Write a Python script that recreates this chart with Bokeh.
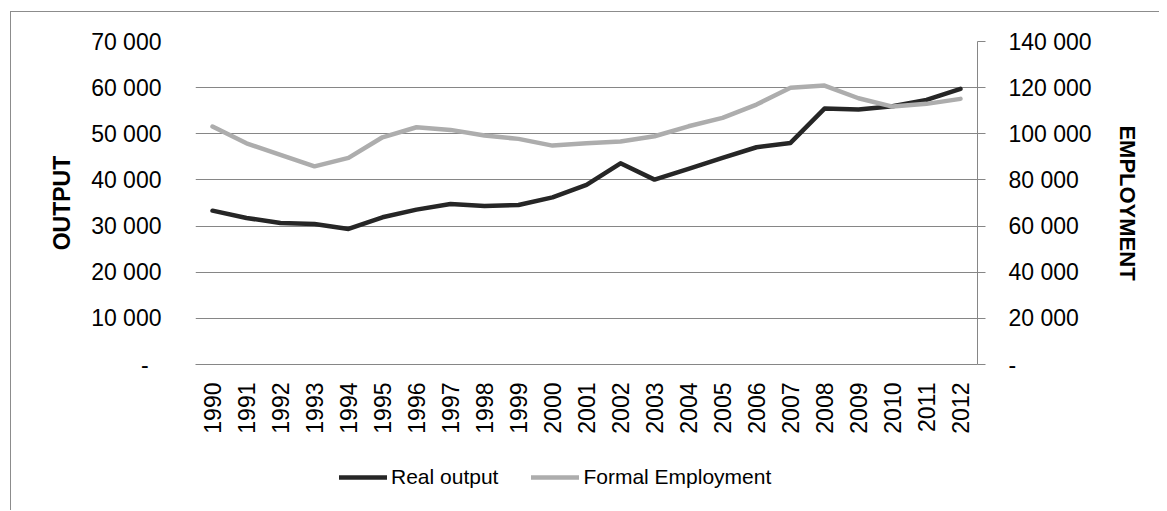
import math
from bokeh.plotting import figure
from bokeh.layouts import column
from bokeh.models import LinearAxis, Range1d, FactorRange, FixedTicker, Legend, LegendItem
from bokeh.embed import file_html
from bokeh.resources import INLINE

years = [str(y) for y in range(1990, 2013)]
real_output = [33340, 31760, 30670, 30450, 29370, 31900, 33560, 34790, 34360, 34570,
               36230, 38910, 43600, 40070, 42380, 44770, 47080, 48020, 55470, 55250,
               55970, 57350, 59740]
formal_employment = [103130, 95880, 90850, 85900, 89540, 98480, 102820, 101690, 99220, 97790,
                     94880, 95880, 96620, 98920, 103250, 106900, 112670, 119910, 120910, 115400,
                     111800, 112970, 115140]
left_ticks = [0, 10000, 20000, 30000, 40000, 50000, 60000, 70000]
right_ticks = [0, 20000, 40000, 60000, 80000, 100000, 120000, 140000]

FONT = "Liberation Sans"
GRID = "#868686"
DARK = "#262626"
LIGHT = "#ADADAD"

def fmt(v):
    if v == 0:
        return "-"
    return f"{v:,}".replace(",", " ")

p = figure(x_range=FactorRange(*years), y_range=Range1d(0, 70000),
           frame_width=782, frame_height=323, output_backend="svg", toolbar_location=None,
           min_border_left=184, min_border_right=182, min_border_top=29, min_border_bottom=75)
p.extra_y_ranges = {"emp": Range1d(0, 140000)}
p.outline_line_color = None
p.background_fill_color = "white"
p.border_fill_color = "white"

p.line(years, real_output, line_color=DARK, line_width=4.5,
       line_cap="round", line_join="round")
p.line(years, formal_employment, line_color=LIGHT, line_width=4.5,
       line_cap="round", line_join="round", y_range_name="emp")

p.xgrid.grid_line_color = None
p.ygrid.grid_line_color = GRID
p.ygrid.grid_line_width = 1
p.ygrid.ticker = FixedTicker(ticks=left_ticks)

# left axis
ya = p.yaxis[0]
ya.ticker = FixedTicker(ticks=left_ticks)
ya.major_label_overrides = {v: (fmt(v) if v else "-\u00a0\u00a0") for v in left_ticks}
ya.axis_line_color = None
ya.major_tick_line_color = None
ya.minor_tick_line_color = None
ya.major_label_standoff = 28
ya.major_label_text_font = FONT
ya.major_label_text_font_size = "23px"
ya.major_label_text_color = "black"
ya.axis_label = "OUTPUT"
ya.axis_label_text_font = FONT
ya.axis_label_text_font_size = "23px"
ya.axis_label_text_font_style = "bold"
ya.axis_label_text_color = "black"
ya.axis_label_standoff = 13

# right axis
ra = LinearAxis(y_range_name="emp", ticker=FixedTicker(ticks=right_ticks))
ra.major_label_overrides = {v: fmt(v) for v in right_ticks}
ra.axis_line_color = GRID
ra.axis_line_width = 1
ra.major_tick_line_color = GRID
ra.major_tick_in = 0
ra.major_tick_out = 8
ra.minor_tick_line_color = None
ra.major_label_standoff = 23
ra.major_label_text_font = FONT
ra.major_label_text_font_size = "23px"
ra.major_label_text_color = "black"
ra.axis_label = "EMPLOYMENT"
ra.axis_label_text_font = FONT
ra.axis_label_text_font_size = "22px"
ra.axis_label_text_font_style = "bold"
ra.axis_label_text_color = "black"
ra.axis_label_standoff = 20
p.add_layout(ra, "right")

# x axis
xa = p.xaxis[0]
xa.axis_line_color = GRID
xa.axis_line_width = 1
xa.major_tick_line_color = None
xa.minor_tick_line_color = None
xa.major_tick_out = 0
xa.major_label_orientation = math.pi / 2
xa.major_label_standoff = 18
xa.major_label_text_font = FONT
xa.major_label_text_font_size = "23px"
xa.major_label_text_color = "black"

# legend strip (series drawn outside its visible range; only the legend shows)
q = figure(x_range=p.x_range, y_range=Range1d(-2, -1), width=1148, height=71,
           output_backend="svg", toolbar_location=None,
           x_axis_location=None, y_axis_location=None,
           min_border_left=0, min_border_right=0, min_border_top=0, min_border_bottom=0)
q.outline_line_color = None
q.grid.grid_line_color = None
q.border_fill_color = "white"
q.background_fill_color = "white"
l1 = q.line(years, real_output, line_color=DARK, line_width=4.5, line_cap="round")
l2 = q.line(years, formal_employment, line_color=LIGHT, line_width=4.5, line_cap="round")

legend = Legend(items=[LegendItem(label="Real output", renderers=[l1]),
                       LegendItem(label="Formal Employment", renderers=[l2])],
                orientation="horizontal", location=(144, 21),
                glyph_width=48, glyph_height=24, label_height=24, label_standoff=4,
                spacing=33, padding=0, margin=0,
                border_line_color=None, background_fill_alpha=0,
                label_text_font=FONT, label_text_font_size="21px", label_text_color="black")
q.add_layout(legend, "center")

layout = column(p, q, spacing=0)
layout.styles = {"margin-left": "10px", "margin-top": "11px",
                 "border-left": "1px solid #8c8c8c", "border-top": "1px solid #8c8c8c"}

open("out.html", "w").write(file_html(layout, INLINE))
